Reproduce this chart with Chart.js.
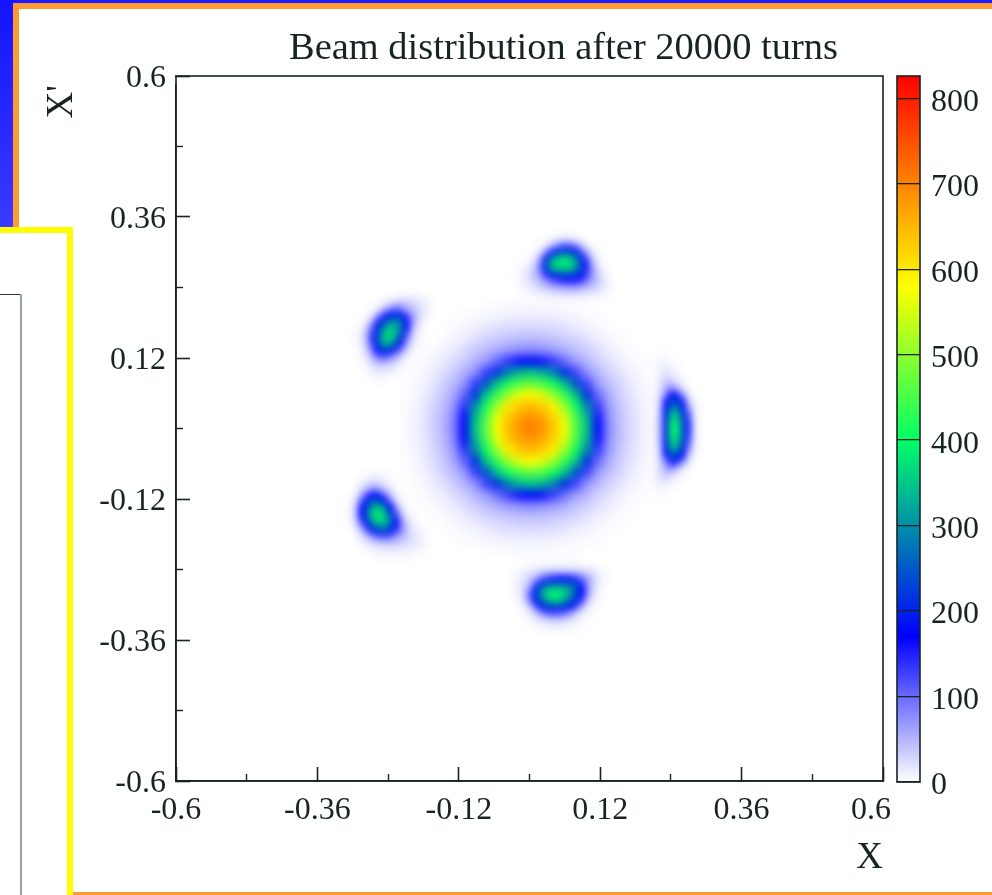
<!DOCTYPE html>
<html><head><meta charset="utf-8"><title>Beam distribution</title>
<script src="https://cdn.jsdelivr.net/npm/chart.js@4"></script>
<style>
html,body{margin:0;padding:0;background:#fff;width:992px;height:895px;overflow:hidden}
.d{position:absolute}
canvas{position:absolute;filter:blur(0.45px)}
</style></head><body>
<div class="d" style="left:0;top:0;width:992px;height:3px;background:#1a1aff"></div>
<div class="d" style="left:0;top:0;width:13px;height:228px;background:linear-gradient(#1414ff,#3a3aff)"></div>
<div class="d" style="left:13px;top:3px;width:979px;height:6px;background:#ff9933"></div>
<div class="d" style="left:13px;top:3px;width:6px;height:225px;background:#ff9933"></div>
<div class="d" style="left:73px;top:892px;width:919px;height:3px;background:#ff9933"></div>
<div class="d" style="left:0;top:227px;width:73px;height:6px;background:#ffff00"></div>
<div class="d" style="left:67px;top:227px;width:6px;height:668px;background:#ffff00"></div>
<div class="d" style="left:0;top:294px;width:21px;height:1px;background:#333"></div>
<div class="d" style="left:20px;top:294px;width:1.5px;height:601px;background:#93a3a3"></div>
<div style="position:absolute;left:0;top:0;width:992px;height:895px">
<canvas id="map" width="992" height="895" style="left:0;top:0"></canvas>
<canvas id="bar" width="112" height="895" style="left:880px;top:0"></canvas>
</div>
<script>
const titleText = "Beam distribution after 20000 turns";
const xName = "X";
const yName = "X'";
const majorTicks = [-0.6,-0.36,-0.12,0.12,0.36,0.6];
const minorTicks = [-0.48,-0.24,0,0.24,0.48];
const barTicks = [0,100,200,300,400,500,600,700,800];
const barMax = 826;
const stopValues = [0,170,400,580,826];
const stopColors = [[255,255,255],[0,0,255],[0,255,102],[255,255,0],[255,0,0]];

// central core, rows going down
const coreRows = [
[0,0,0,0,0,0,0,2,3,4,5,5,5,4,3,2,0,0,0,0,0,0,0],
[0,0,0,0,0,3,5,7,9,11,12,13,12,11,9,6,4,2,0,0,0,0,0],
[0,0,0,0,3,6,10,16,21,25,27,28,26,24,20,14,9,5,2,0,0,0,0],
[0,0,0,3,7,12,22,30,36,41,45,46,44,40,34,28,20,11,6,3,0,0,0],
[0,0,3,7,14,24,35,46,58,68,76,80,74,65,55,43,33,22,12,6,2,0,0],
[0,3,6,12,23,34,52,70,103,138,166,178,162,133,98,66,50,31,20,10,5,2,0],
[1,4,9,20,35,52,76,132,214,292,338,352,332,288,208,126,72,49,31,18,8,4,0],
[2,6,14,29,45,70,132,245,355,415,455,470,448,408,345,238,126,65,42,26,12,5,2],
[3,7,19,34,57,102,216,355,440,515,565,585,556,506,432,346,208,98,54,31,17,6,3],
[4,10,24,40,67,138,295,415,515,600,632,645,625,590,505,405,288,132,64,36,21,9,3],
[5,11,26,44,76,166,340,455,565,632,672,688,668,620,555,445,332,160,71,40,23,10,4],
[5,12,27,45,80,174,352,470,585,648,685,708,682,640,575,460,345,170,75,41,23,10,4],
[5,11,25,43,75,164,335,452,565,630,670,684,666,622,556,447,332,160,72,41,23,10,4],
[4,9,23,39,66,134,290,410,510,595,630,645,625,592,508,408,288,132,65,37,21,9,3],
[3,7,19,34,56,100,210,350,435,510,560,575,558,508,433,348,208,98,55,32,18,7,3],
[2,6,14,28,44,67,128,240,350,410,448,465,450,408,348,238,126,65,42,26,12,5,2],
[1,4,9,20,33,50,72,128,210,290,333,350,335,288,208,126,70,48,30,18,8,4,0],
[0,3,6,11,22,32,50,67,98,133,162,172,162,132,96,65,48,29,20,9,5,2,0],
[0,0,3,7,13,23,33,43,55,65,72,76,72,64,54,41,31,20,12,6,3,0,0],
[0,0,0,3,7,11,20,27,33,38,41,42,41,37,32,26,18,10,6,3,0,0,0],
[0,0,0,0,3,6,9,14,19,22,24,25,24,22,18,13,8,5,3,0,0,0,0],
[0,0,0,0,0,3,4,6,8,10,11,11,11,9,7,5,4,3,0,0,0,0,0],
[0,0,0,0,0,0,0,2,3,3,4,4,4,3,3,2,0,0,0,0,0,0,0]
];
const topIsland = [
[0,0,0,0,0,0,0,3,5,5,3,0,0,0,0,0,0],
[0,0,0,0,0,3,10,18,25,25,18,10,3,0,0,0,0],
[0,0,0,0,5,15,40,80,110,115,90,50,15,5,0,0,0],
[0,0,0,3,15,60,140,210,230,225,190,120,55,14,3,0,0],
[0,0,3,10,40,150,260,330,350,345,290,210,110,35,8,0,0],
[0,3,6,22,80,215,330,370,385,380,330,240,150,55,15,4,0],
[3,6,14,35,80,205,310,345,350,345,310,240,150,70,24,8,0],
[3,8,18,40,62,130,200,220,230,230,225,185,125,70,32,12,3],
[3,8,18,32,48,72,105,130,145,150,150,135,95,62,36,18,5],
[3,6,12,20,30,42,54,65,70,75,75,66,52,42,30,18,6],
[0,3,5,10,14,18,24,28,30,32,32,28,24,18,14,8,3],
[0,0,0,3,4,5,7,8,9,9,9,8,6,5,4,3,0]
];
const upperLeftIsland = [
[0,0,0,0,0,0,0,0,3,3,3,3,0,0],
[0,0,0,0,0,3,5,8,12,14,12,10,6,3],
[0,0,0,0,4,10,25,40,45,38,28,20,12,5],
[0,0,0,4,15,45,85,110,95,60,45,28,14,5],
[0,0,3,14,60,135,190,215,190,120,65,30,12,3],
[0,3,10,45,140,215,270,300,270,165,70,24,7,0],
[0,5,24,90,195,280,340,340,280,175,55,15,3,0],
[3,8,35,125,220,320,370,340,250,135,38,10,3,0],
[3,10,38,135,225,340,370,310,210,95,26,7,0,0],
[3,8,32,115,210,310,310,240,155,60,16,4,0,0],
[0,6,24,80,165,220,200,145,85,30,8,3,0,0],
[0,4,15,48,100,120,100,70,36,12,4,0,0,0],
[0,3,8,25,48,55,45,30,14,5,0,0,0,0],
[0,0,5,14,24,26,20,12,5,3,0,0,0,0],
[0,0,3,7,10,11,8,5,3,0,0,0,0,0],
[0,0,0,3,5,5,3,0,0,0,0,0,0,0]
];
const lowerLeftIsland = [
[0,0,0,3,5,3,3,0,0,0,0,0,0,0],
[0,0,4,8,12,10,5,3,0,0,0,0,0,0],
[0,3,10,24,34,28,16,7,3,0,0,0,0,0],
[0,6,24,55,80,65,38,16,5,0,0,0,0,0],
[3,12,60,135,180,160,100,38,10,3,0,0,0,0],
[3,24,115,200,260,240,190,90,24,6,0,0,0,0],
[5,38,160,240,320,340,270,175,55,14,3,0,0,0],
[6,44,170,270,370,380,330,220,105,28,7,3,0,0],
[5,36,150,250,350,385,350,260,150,50,14,5,0,0],
[3,24,95,190,280,330,320,260,165,65,24,8,3,0],
[0,12,46,115,190,230,240,190,125,70,32,14,6,3],
[0,5,20,50,90,115,120,100,70,48,30,18,10,4],
[0,3,8,20,34,44,50,48,40,32,25,18,12,5],
[0,0,3,7,12,16,18,20,20,18,15,10,7,3],
[0,0,0,3,4,6,7,8,8,7,6,4,3,0],
[0,0,0,0,0,3,3,3,3,3,3,0,0,0]
];
const bottomIsland = [
[0,0,0,0,0,0,3,3,3,3,3,3,0,0,0,0,0],
[0,0,3,5,6,6,8,8,8,8,8,8,6,6,5,3,0],
[3,5,10,16,22,30,36,40,42,42,40,36,30,22,14,6,3],
[3,8,18,32,50,85,120,140,150,150,145,120,85,55,30,10,3],
[5,10,22,42,110,195,235,245,250,245,240,215,135,62,30,10,3],
[3,10,28,70,190,285,340,360,360,340,300,240,165,68,24,7,0],
[3,8,26,105,210,300,365,395,390,350,300,225,160,58,16,4,0],
[0,6,18,80,190,250,310,350,345,310,240,200,120,34,10,3,0],
[0,3,10,35,105,190,220,230,225,210,190,120,50,16,5,0,0],
[0,0,5,14,42,85,120,130,125,110,75,42,18,6,3,0,0],
[0,0,3,6,16,30,42,50,50,42,28,15,7,3,0,0,0],
[0,0,0,3,6,10,14,16,16,14,9,6,3,0,0,0,0],
[0,0,0,0,3,3,5,5,5,5,3,3,0,0,0,0,0]
];
const rightIsland = [
[0,3,3,0,0,0,0,0,0],
[3,5,6,3,0,0,0,0,0],
[3,8,12,6,3,0,0,0,0],
[3,10,18,12,6,0,0,0,0],
[3,12,28,22,10,3,0,0,0],
[3,14,40,45,25,8,3,0,0],
[3,18,55,85,60,24,6,0,0],
[4,24,85,180,150,70,14,3,0],
[5,30,150,230,220,145,32,6,0],
[5,36,175,270,260,190,60,9,3],
[5,40,190,330,320,215,95,12,3],
[6,44,195,360,350,230,125,14,3],
[7,46,200,380,370,240,138,16,3],
[7,46,200,390,385,245,142,16,3],
[7,46,195,380,370,240,132,15,3],
[6,44,190,360,345,230,115,13,3],
[5,40,185,330,310,210,85,11,3],
[5,34,160,260,240,175,48,8,0],
[5,30,105,205,185,110,22,5,0],
[4,26,62,120,90,38,8,0,0],
[4,24,48,48,26,10,3,0,0],
[5,20,30,20,9,3,0,0,0],
[5,14,14,8,3,0,0,0,0],
[3,7,7,3,0,0,0,0,0],
[0,3,3,0,0,0,0,0,0]
];
const coreBin = 0.019;
const coreOrigin = {x: -0.206, y: 0.209};
const islandBin = 0.01;
const islandOrigins = [
  {rows: topIsland, x: -0.0229, y: 0.3311},
  {rows: upperLeftIsland, x: -0.2979, y: 0.2323},
  {rows: lowerLeftIsland, x: -0.3047, y: -0.0740},
  {rows: bottomIsland, x: -0.0297, y: -0.2238},
  {rows: rightIsland, x: 0.2113, y: 0.1268}
];

function cells(rows, x0, y0, bin){
  const out = [];
  rows.forEach((row, j) => row.forEach((v, i) => {
    if (v > 0) out.push({x: x0 + i*bin, y: y0 - j*bin, v});
  }));
  return out;
}
function heatRGB(v){
  for (let k = 1; k < stopValues.length; k++){
    if (v <= stopValues[k]){
      const t = (v - stopValues[k-1])/(stopValues[k]-stopValues[k-1]);
      const a = stopColors[k-1], b = stopColors[k];
      return `rgb(${a.map((c,n)=>Math.round(c+(b[n]-c)*t)).join(',')})`;
    }
  }
  return 'rgb(255,0,0)';
}
const inkColor = '#182424';
const serif = 'Liberation Serif';

const frame = {id:'frame', afterDraw(chart){
  const a = chart.chartArea, c = chart.ctx;
  c.save(); c.strokeStyle = inkColor; c.lineWidth = 1.6;
  c.strokeRect(a.left, a.top, a.right-a.left, a.bottom-a.top); c.restore();
}};
function blurArea(chart, px){
  const a = chart.chartArea, src = chart.canvas, c = chart.ctx;
  const t = document.createElement('canvas'); t.width = src.width; t.height = src.height;
  t.getContext('2d').drawImage(src, 0, 0);
  c.save();
  c.beginPath(); c.rect(a.left, a.top, a.right-a.left, a.bottom-a.top); c.clip();
  c.clearRect(a.left, a.top, a.right-a.left, a.bottom-a.top);
  c.filter = `blur(${px}px)`;
  c.drawImage(t, 0, 0);
  c.restore();
}
const softCells = {id:'softCells', afterDatasetDraw(chart, args){
  blurArea(chart, chart.data.datasets[args.index].softness);
}};
function nudge(item, dx, dy){
  if (!item.nudged){
    item.options.translation[0] += dx;
    item.options.translation[1] += dy;
    item.nudged = true;
  }
}
const placeText = {id:'placeText',
  afterLayout(chart){
    const tb = chart.titleBlock;
    tb.left = 289; tb.right = 838; tb.top = 30;
    chart.scales.y.top = 85;
  },
  beforeDraw(chart){
    const items = chart.scales.x.getLabelItems(chart.chartArea);
    nudge(items[items.length-1], -12, 0);
    chart.scales.y.getLabelItems(chart.chartArea).forEach(it => nudge(it, 1, 3));
  }
};
const barText = {id:'barText', beforeDraw(chart){
  chart.scales.y.getLabelItems(chart.chartArea).forEach(it => nudge(it, 0, 4));
}};
const tickFont = {family: serif, size: 32};
const setTicks = list => scale => { scale.ticks = list.map(value => ({value})); };

new Chart(document.getElementById('map'), {
  type: 'scatter',
  plugins: [softCells, placeText, frame],
  data: {datasets: [
    {data: islandOrigins.flatMap(p => cells(p.rows, p.x, p.y, islandBin)),
     pointStyle:'rect', pointRadius: 4.6, pointBorderWidth: 0, pointHoverRadius: 4.6,
     pointBackgroundColor: c => heatRGB(c.raw.v), softness: 3},
    {data: cells(coreRows, coreOrigin.x, coreOrigin.y, coreBin),
     pointStyle:'rect', pointRadius: 8.4, pointBorderWidth: 0, pointHoverRadius: 8.4,
     pointBackgroundColor: c => heatRGB(c.raw.v), softness: 3}
  ]},
  options: {
    responsive:false, animation:false, events:[],
    layout:{padding:{left:0,right:109,top:37.5,bottom:0}},
    plugins:{legend:{display:false}, tooltip:{enabled:false},
      title:{display:true,text:titleText,color:inkColor,padding:0,
        font:{family:serif,size:38.5,weight:'normal',lineHeight:1}}},
    scales:{
      x:{type:'linear',min:-0.6,max:0.6,position:'bottom',
        afterFit:s=>{s.height=114;}, afterBuildTicks:setTicks(majorTicks),
        grid:{drawOnChartArea:false,tickLength:-14,tickWidth:1.6,tickColor:inkColor,z:1},
        border:{color:inkColor,width:1.6,z:1},
        ticks:{color:inkColor,font:tickFont,padding:24,maxRotation:0,autoSkip:false,callback:v=>String(v)},
        title:{display:true,text:xName,color:inkColor,align:'end',padding:{top:0,bottom:18},
          font:{family:serif,size:37,lineHeight:1}}},
      y:{type:'linear',min:-0.6,max:0.6,position:'left',
        afterFit:s=>{s.width=176;}, afterBuildTicks:setTicks(majorTicks),
        grid:{drawOnChartArea:false,tickLength:-14,tickWidth:1.6,tickColor:inkColor,z:1},
        border:{color:inkColor,width:1.6,z:1},
        ticks:{color:inkColor,font:tickFont,padding:25,autoSkip:false,callback:v=>String(v)},
        title:{display:true,text:yName,color:inkColor,align:'end',padding:{top:44,bottom:0},
          font:{family:serif,size:37,lineHeight:1}}},
      xMinor:{type:'linear',axis:'x',min:-0.6,max:0.6,position:'bottom',weight:-1,
        afterFit:s=>{s.height=0;}, afterBuildTicks:setTicks(minorTicks),
        grid:{drawOnChartArea:false,tickLength:-7,tickWidth:1.4,tickColor:inkColor,z:1},
        border:{display:false}, ticks:{display:false}},
      yMinor:{type:'linear',axis:'y',min:-0.6,max:0.6,position:'left',weight:-1,
        afterFit:s=>{s.width=0;}, afterBuildTicks:setTicks(minorTicks),
        grid:{drawOnChartArea:false,tickLength:-7,tickWidth:1.4,tickColor:inkColor,z:1},
        border:{display:false}, ticks:{display:false}}
    }
  }
});

new Chart(document.getElementById('bar'), {
  type:'bar',
  plugins:[barText, frame],
  data:{labels:['z'],datasets:[{data:[[0,barMax]],barPercentage:1,categoryPercentage:1,borderWidth:0,
    backgroundColor(c){
      const a = c.chart.chartArea; if(!a) return '#fff';
      const g = c.chart.ctx.createLinearGradient(0,a.bottom,0,a.top);
      stopValues.forEach(v => g.addColorStop(v/barMax, heatRGB(v)));
      return g;
    }}]},
  options:{
    responsive:false,animation:false,events:[],
    layout:{padding:{left:17,right:0,top:76,bottom:113}},
    plugins:{legend:{display:false},tooltip:{enabled:false},title:{display:false}},
    scales:{
      x:{display:false},
      y:{position:'right',min:0,max:barMax,afterFit:s=>{s.width=72;},afterBuildTicks:setTicks(barTicks),
        grid:{drawTicks:false,color:inkColor,lineWidth:1.3,z:1},border:{display:false},
        ticks:{color:inkColor,font:tickFont,padding:11,autoSkip:false,callback:v=>String(v)}}
    }
  }
});
</script>
</body></html>
